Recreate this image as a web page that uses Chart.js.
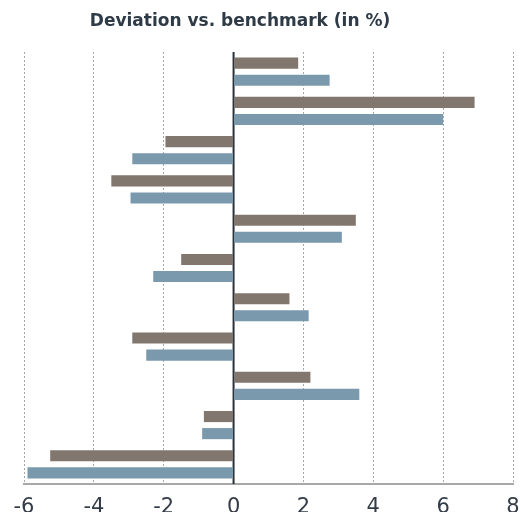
<!DOCTYPE html>
<html>
<head>
<meta charset="utf-8">
<script src="https://cdn.jsdelivr.net/npm/chart.js@4"></script>
<style>
  body { margin: 0; background: #fff; }
  #wrap { position: relative; width: 521px; height: 512px; }
  #title {
    position: absolute; left: 0; top: 10px; width: 480px; text-align: center;
    font: bold 17px "DejaVu Sans", sans-serif; color: #2e3a46;
  }
</style>
</head>
<body>
<div id="wrap">
  <div id="title">Deviation vs. benchmark (in %)</div>
  <canvas id="chart" width="521" height="512"></canvas>
</div>
<script>
// categories have no visible labels in the picture
const categories = ["1", "2", "3", "4", "5", "6", "7", "8", "9", "10", "11"];
const seriesA = [1.85, 6.9, -1.95, -3.5, 3.5, -1.5, 1.6, -2.9, 2.2, -0.85, -5.25];
const seriesB = [2.75, 6.0, -2.9, -2.95, 3.1, -2.3, 2.15, -2.5, 3.6, -0.9, -5.9];
const xTicks = [-6, -4, -2, 0, 2, 4, 6, 8];

const zeroLine = {
  id: "zeroLine",
  beforeDatasetsDraw(chart) {
    const x = chart.scales.x.getPixelForValue(0);
    const { top, bottom } = chart.chartArea;
    const ctx = chart.ctx;
    ctx.save();
    ctx.strokeStyle = "#2b3138";
    ctx.lineWidth = 2;
    ctx.beginPath();
    ctx.moveTo(x, top);
    ctx.lineTo(x, bottom);
    ctx.stroke();
    ctx.restore();
  }
};

new Chart(document.getElementById("chart"), {
  type: "bar",
  data: {
    labels: categories,
    datasets: [
      { data: seriesA, backgroundColor: "#82776e", categoryPercentage: 0.87, barPercentage: 0.65 },
      { data: seriesB, backgroundColor: "#7a99ad", categoryPercentage: 0.87, barPercentage: 0.65 }
    ]
  },
  options: {
    indexAxis: "y",
    responsive: false,
    animation: false,
    layout: { padding: { top: 52, left: 24, right: 8, bottom: 0 } },
    plugins: {
      legend: { display: false },
      tooltip: { enabled: false }
    },
    scales: {
      x: {
        min: -6,
        max: 8,
        afterBuildTicks: (axis) => { axis.ticks = xTicks.map(v => ({ value: v })); },
        afterFit: (axis) => {
          axis.height = 28;
          axis.paddingLeft = 0;
          axis.paddingRight = 0;
        },
        ticks: {
          font: { family: "DejaVu Sans", size: 21 },
          color: "#333c47",
          padding: 11
        },
        grid: {
          color: "#a6a6a6",
          lineWidth: 1,
          drawTicks: false
        },
        border: { display: true, color: "#a8a8a8", width: 2, dash: [2, 2] }
      },
      y: { display: false }
    }
  },
  plugins: [zeroLine]
});
</script>
</body>
</html>
